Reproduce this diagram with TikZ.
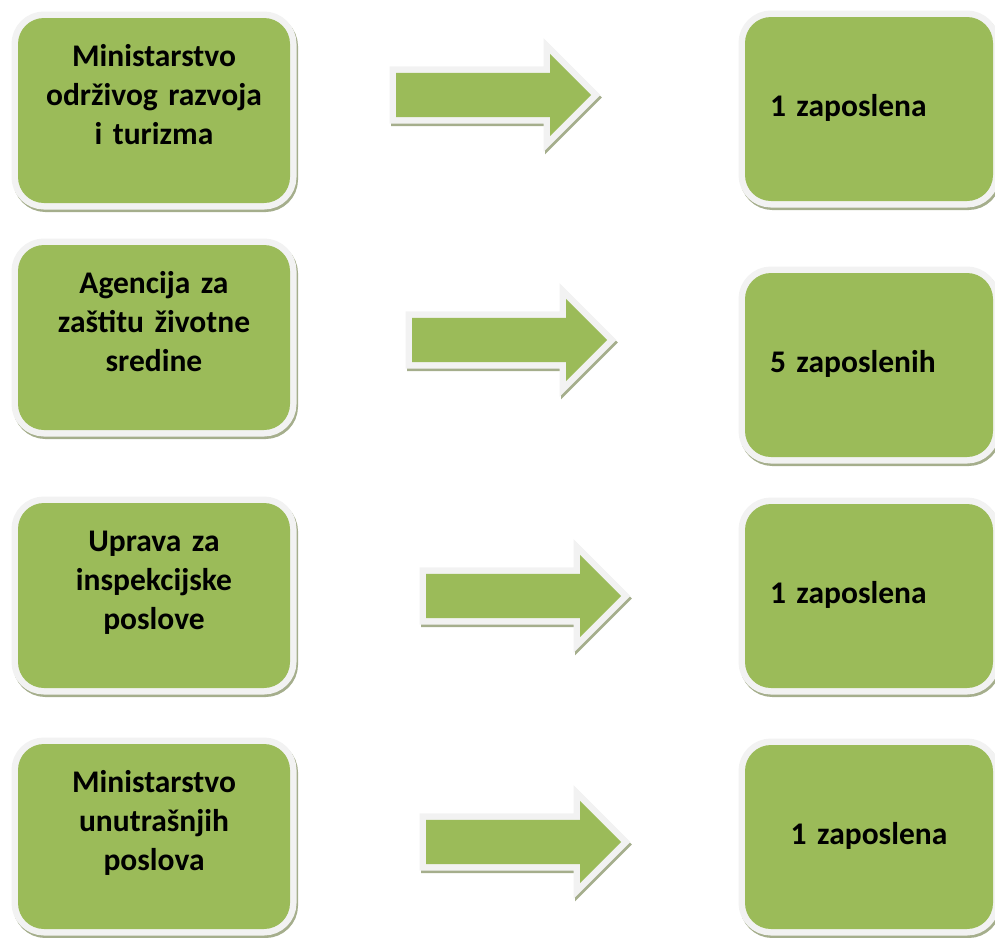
\documentclass[tikz,border=0pt]{standalone}
\usepackage{fontspec}
\setmainfont{Carlito}
\usetikzlibrary{shapes.arrows, shadows}
\definecolor{boxgreen}{HTML}{9BBB59}
\definecolor{rimgrey}{HTML}{F2F2F2}
\definecolor{shadowgreen}{HTML}{A5AE8C}
\tikzset{
    rimmed/.style={
        general shadow={draw=shadowgreen, line width=13pt,
            shadow xshift=1.5pt, shadow yshift=-2.5pt},
        preaction={draw=rimgrey, line width=13pt}
    }
}
\tikzstyle{orgbox} = [
    rectangle,
    rounded corners=26pt,
    rimmed,
    fill=boxgreen,
    minimum height=185pt,
    text width=252pt,
    inner xsep=10pt,
    inner ysep=0pt,
    align=center,
    font=\fontsize{31.5}{39}\selectfont\bfseries,
    text height=21pt,
    text depth=109pt
]
\tikzstyle{staffbox} = [
    rectangle,
    rounded corners=26pt,
    rimmed,
    fill=boxgreen,
    minimum height=184pt,
    text width=198pt,
    inner xsep=25pt,
    inner ysep=0pt,
    align=left,
    font=\fontsize{31.5}{39}\selectfont\bfseries,
    text height=21pt,
    text depth=7pt
]
\tikzstyle{blockarrow} = [
    single arrow,
    rimmed,
    fill=boxgreen,
    minimum height=195pt,
    single arrow head extend=19pt,
    inner xsep=0pt,
    inner ysep=22pt,
    anchor=tail
]

\begin{document}
\begin{tikzpicture}[x=1pt, y=-1pt]
\useasboundingbox (0,0) rectangle (995,937);

% institutions
\node (org1) [orgbox] at (154,110.5)
{Ministarstvo\\održivog razvoja\\i turizma};
\node (org2) [orgbox] at (154,337.5)
{Agencija za\\zaštitu životne\\sredine};
\node (org3) [orgbox] at (154,595.5)
{Uprava za\\inspekcijske\\poslove};
\node (org4) [orgbox] at (154,836.5)
{Ministarstvo\\unutrašnjih\\poslova};

% employees
\node (emp1) [staffbox] at (869,109) {1 zaposlena};
\node (emp2) [staffbox] at (869,365) {5 zaposlenih};
\node (emp3) [staffbox] at (869,596) {1 zaposlena};
\node (emp4) [staffbox, align=center] at (869,837) {1 zaposlena};

% arrows
\node (arrow1) [blockarrow] at (396,95) {};
\node (arrow2) [blockarrow] at (412,340) {};
\node (arrow3) [blockarrow] at (426,596) {};
\node (arrow4) [blockarrow] at (426,842) {};

\end{tikzpicture}
\end{document}
